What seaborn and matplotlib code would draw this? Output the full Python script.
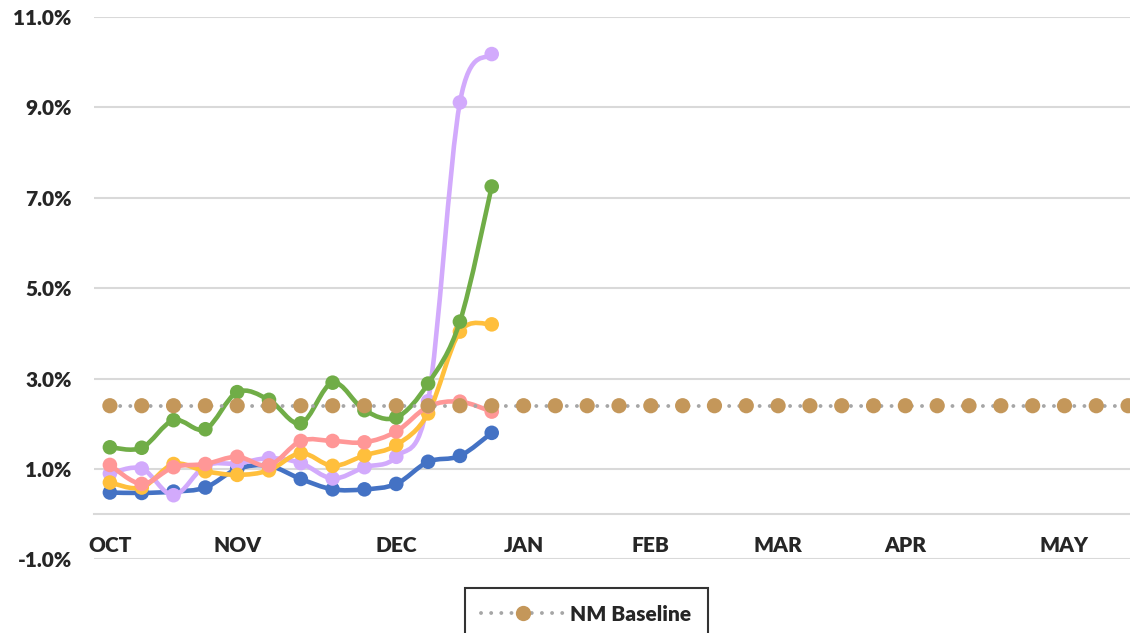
import numpy as np
import pandas as pd
import seaborn as sns
import matplotlib.pyplot as plt
from matplotlib.path import Path
from matplotlib.patches import PathPatch
from matplotlib.lines import Line2D

sns.set_style('white')
plt.rcParams['font.family'] = ['Lato', 'DejaVu Sans']
plt.rcParams['font.weight'] = 'heavy'

# weekly values (percent), week 0 = first week of OCT
weeks = list(range(13))
blue = [0.48, 0.47, 0.50, 0.59, 1.00, 1.07, 0.78, 0.55, 0.55, 0.67, 1.16, 1.29, 1.80]
purple = [0.90, 1.01, 0.42, 1.07, 1.12, 1.24, 1.13, 0.79, 1.04, 1.27, 2.50, 9.11, 10.18]
orange = [0.70, 0.59, 1.11, 0.95, 0.87, 0.97, 1.35, 1.07, 1.30, 1.53, 2.23, 4.04, 4.20]
pink = [1.09, 0.67, 1.04, 1.11, 1.27, 1.08, 1.62, 1.62, 1.59, 1.83, 2.38, 2.49, 2.27]
green = [1.48, 1.47, 2.08, 1.88, 2.70, 2.53, 2.01, 2.91, 2.30, 2.14, 2.89, 4.26, 7.25]

baseline_weeks = list(range(33))
baseline = [2.4] * 33

month_pos = [0, 4, 9, 13, 17, 21, 25, 30]
month_labels = ['OCT', 'NOV', 'DEC', 'JAN', 'FEB', 'MAR', 'APR', 'MAY']
y_ticks = [-1, 1, 3, 5, 7, 9, 11]

series = {'Season 1': blue, 'Season 2': purple, 'Season 3': orange,
          'Season 4': pink, 'Season 5': green}
colors = {'Season 1': '#4472C4', 'Season 2': '#D2AAFC', 'Season 3': '#FFBF3C',
          'Season 4': '#FF9797', 'Season 5': '#70AD47'}

df = pd.DataFrame([(name, w, v) for name, vals in series.items()
                   for w, v in zip(weeks, vals)],
                  columns=['season', 'week', 'pct'])


def smooth_path(x, y):
    # excel-like smoothed line (catmull-rom as cubic bezier)
    p = np.column_stack([x, y]).astype(float)
    n = len(p)
    verts = [p[0]]
    codes = [Path.MOVETO]
    for i in range(n - 1):
        p0 = p[i - 1] if i > 0 else p[i]
        p3 = p[i + 2] if i + 2 < n else p[i + 1]
        c1 = p[i] + (p[i + 1] - p0) / 6
        c2 = p[i + 1] - (p3 - p[i]) / 6
        verts += [c1, c2, p[i + 1]]
        codes += [Path.CURVE4] * 3
    return Path(verts, codes)


fig = plt.figure(figsize=(11.3, 6.33), dpi=100)
ax = fig.add_axes([94 / 1130, (633 - 559.4) / 633, 1050 / 1130, 542.4 / 633])

# axis line sits at 0, month labels hang under it
for s in ['top', 'right', 'left']:
    ax.spines[s].set_visible(False)
ax.spines['bottom'].set_position(('data', 0))
ax.spines['bottom'].set_color('#D9D9D9')
ax.spines['bottom'].set_linewidth(1.5)

for k, (name, vals) in enumerate(series.items()):
    z = 3 + k * 0.1
    ax.add_patch(PathPatch(smooth_path(weeks, vals), facecolor='none',
                           edgecolor=colors[name], lw=3.3, zorder=z,
                           capstyle='round', joinstyle='round'))
    sns.scatterplot(data=df[df.season == name], x='week', y='pct', ax=ax,
                    color=colors[name], s=110, edgecolor='none',
                    zorder=z + 0.05, legend=False, clip_on=False)

# baseline on top
sns.lineplot(x=baseline_weeks, y=baseline, ax=ax, color='#A6A6A6', lw=2.8,
             linestyle=(0, (0.01, 2.6)), dash_capstyle='round', zorder=4)
sns.scatterplot(x=baseline_weeks, y=baseline, ax=ax, color='#C4975A', s=120,
                edgecolor='none', zorder=4.1, legend=False, clip_on=False)

ax.set_xlim(-0.5, 32.5)
ax.set_ylim(-1, 11)
ax.set_yticks(y_ticks)
ax.set_yticklabels([f'{t:.1f}%' for t in y_ticks])
ax.set_xticks(month_pos)
ax.set_xticklabels(month_labels)
ax.tick_params(axis='y', length=0, pad=16, labelsize=15)
ax.tick_params(axis='x', length=0, pad=16, labelsize=15)
ax.grid(axis='y', color='#D9D9D9', lw=1.5)
ax.set_axisbelow(True)
ax.set_xlabel('')
ax.set_ylabel('')

handle = Line2D([], [], color='#A6A6A6', lw=2.8, linestyle=(0, (0.01, 2.6)),
                dash_capstyle='round', marker='o', markersize=11,
                markerfacecolor='#C4975A', markeredgecolor='none')
leg = fig.legend([handle], ['NM Baseline'], loc='upper center',
                 bbox_to_anchor=(586 / 1130, 1 - 588 / 633), frameon=True,
                 fancybox=False, borderaxespad=0, borderpad=0.8,
                 handlelength=4.0, handletextpad=0.25, numpoints=1,
                 prop={'size': 15, 'weight': 'heavy'})
leg.get_frame().set_edgecolor('black')
leg.get_frame().set_linewidth(1.5)

fig.savefig('out.png', dpi=100)
